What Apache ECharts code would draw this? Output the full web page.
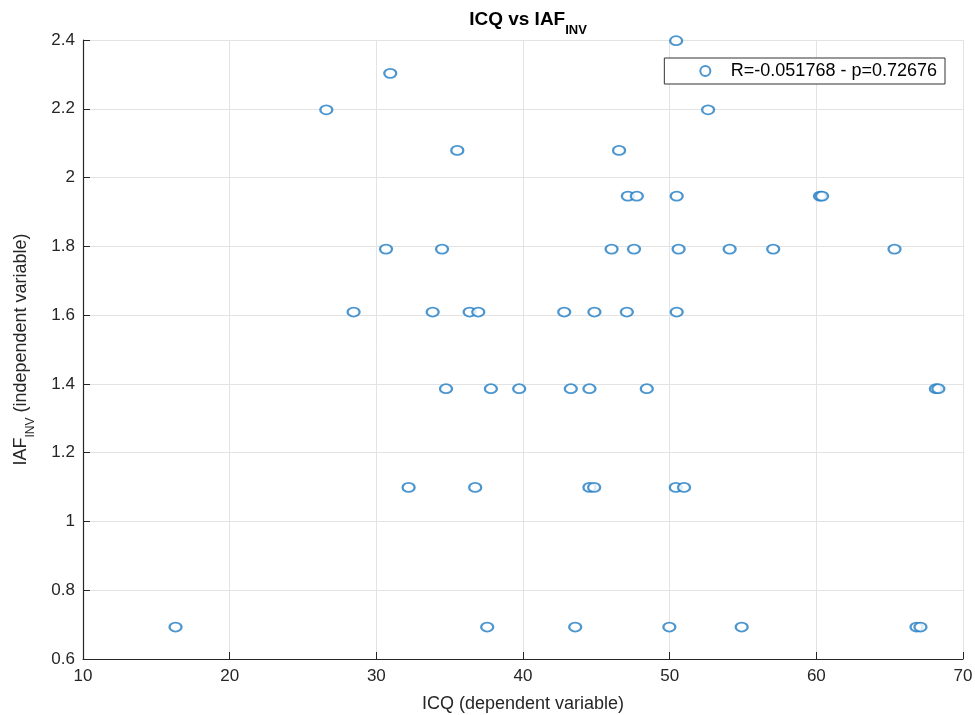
<!DOCTYPE html>
<html>
<head>
<meta charset="utf-8">
<title>ICQ vs IAF_INV</title>
<script src="https://cdn.jsdelivr.net/npm/echarts@6/dist/echarts.min.js"></script>
<style>
  html, body { margin: 0; padding: 0; background: #ffffff; }
  #chart { width: 975px; height: 715px; }
</style>
</head>
<body>
<div id="chart"></div>
<script>
// ICQ scores (dependent variable), grouped by their IAF_INV level
const icqValues = [
  50.44,
  30.95,
  26.59, 52.62,
  35.52, 46.55,
  47.15, 47.76, 50.48, 60.25, 60.39,
  30.66, 34.48, 46.04, 47.57, 50.61, 54.09, 57.06, 65.33,
  28.45, 33.84, 36.36, 36.95, 42.81, 44.87, 47.08, 50.48,
  34.75, 37.81, 39.74, 43.26, 44.53, 48.44, 68.15, 68.32,
  32.20, 36.74, 44.53, 44.85, 50.42, 50.98,
  16.31, 37.56, 43.56, 49.98, 54.91, 66.83, 67.10
];
// IAF_INV (independent variable), one per ICQ score
const iafValues = [
  2.398,
  2.303,
  2.197, 2.197,
  2.079, 2.079,
  1.946, 1.946, 1.946, 1.946, 1.946,
  1.792, 1.792, 1.792, 1.792, 1.792, 1.792, 1.792, 1.792,
  1.609, 1.609, 1.609, 1.609, 1.609, 1.609, 1.609, 1.609,
  1.386, 1.386, 1.386, 1.386, 1.386, 1.386, 1.386, 1.386,
  1.099, 1.099, 1.099, 1.099, 1.099, 1.099,
  0.693, 0.693, 0.693, 0.693, 0.693, 0.693, 0.693
];
const xTicks = [10, 20, 30, 40, 50, 60, 70];
const yTicks = [0.6, 0.8, 1, 1.2, 1.4, 1.6, 1.8, 2, 2.2, 2.4];
const seriesLabel = 'R=-0.051768 - p=0.72676';

const points = icqValues.map((x, i) => [x, iafValues[i]]);

const chart = echarts.init(document.getElementById('chart'), null, { renderer: 'canvas' });
const font = 'Liberation Sans, Arial, Helvetica, sans-serif';
const ink = '#262626';
const markerColor = '#1f7cc4';

chart.setOption({
  backgroundColor: '#ffffff',
  animation: false,
  textStyle: { fontFamily: font },
  title: {
    text: '{m|ICQ vs IAF}{s|INV}',
    left: 523,
    textAlign: 'center',
    top: 5,
    textStyle: {
      rich: {
        m: { fontFamily: font, fontSize: 19, fontWeight: 'bold', color: '#000', lineHeight: 22, verticalAlign: 'top' },
        s: { fontFamily: font, fontSize: 13, fontWeight: 'bold', color: '#000', lineHeight: 13, padding: [14, 0, 0, 0], verticalAlign: 'top' }
      }
    }
  },
  legend: {
    right: 30,
    top: 58,
    orient: 'horizontal',
    backgroundColor: '#ffffff',
    borderColor: '#333333',
    borderWidth: 1,
    borderRadius: 0,
    padding: [4, 8, 4, 35],
    itemWidth: 13,
    itemHeight: 10,
    textStyle: { fontFamily: font, fontSize: 18, color: '#000', padding: [0, 0, 0, 14] },
    data: [{ name: seriesLabel, icon: 'emptyCircle' }]
  },
  grid: { left: 83, right: 12, top: 40, bottom: 56, outerBoundsMode: 'none', containLabel: false },
  xAxis: {
    type: 'value',
    min: xTicks[0],
    max: xTicks[xTicks.length - 1],
    interval: 10,
    name: 'ICQ (dependent variable)',
    nameLocation: 'middle',
    nameGap: 36,
    nameTextStyle: { fontFamily: font, fontSize: 18, color: ink },
    axisLine: { show: true, lineStyle: { color: ink, width: 1.2 } },
    axisTick: { show: true, inside: true, length: 7, lineStyle: { color: ink } },
    axisLabel: { fontFamily: font, fontSize: 17, color: ink, margin: 9 },
    splitLine: { show: true, lineStyle: { color: '#e3e3e3', width: 1 } }
  },
  yAxis: {
    type: 'value',
    min: yTicks[0],
    max: yTicks[yTicks.length - 1],
    interval: 0.2,
    name: '{m|IAF}{s|INV}{m| (independent variable)}',
    nameLocation: 'middle',
    nameGap: 49,
    nameRotate: 90,
    nameTextStyle: {
      rich: {
        m: { fontFamily: font, fontSize: 18, color: ink, lineHeight: 22, verticalAlign: 'top' },
        s: { fontFamily: font, fontSize: 12, color: ink, lineHeight: 12, padding: [13, 0, 0, 0], verticalAlign: 'top' }
      }
    },
    axisLine: { show: true, lineStyle: { color: ink, width: 1.2 } },
    axisTick: { show: true, inside: true, length: 7, lineStyle: { color: ink } },
    axisLabel: {
      fontFamily: font, fontSize: 17, color: ink, margin: 8,
      formatter: v => String(Math.round(v * 10) / 10)
    },
    splitLine: { show: true, lineStyle: { color: '#e3e3e3', width: 1 } }
  },
  series: [{
    name: seriesLabel,
    type: 'scatter',
    data: points,
    symbol: 'emptyCircle',
    symbolSize: [12, 9],
    itemStyle: { color: markerColor, borderColor: markerColor, borderWidth: 1.6 },
    emphasis: { disabled: true }
  }]
});
</script>
</body>
</html>
